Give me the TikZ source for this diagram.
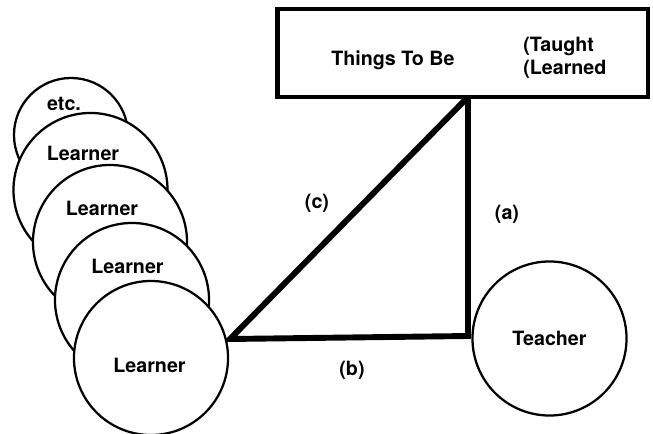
\documentclass[tikz,border=0pt]{standalone}
\usepackage{fontspec}
\setmainfont{TeX Gyre Heros}

\begin{document}
\begin{tikzpicture}[x=0.025cm,y=-0.025cm,
  every node/.style={font=\fontsize{14}{16.5}\selectfont\bfseries},
  pupil/.style={circle,draw,fill=white,line width=1.6pt,minimum size=3.85cm,inner sep=0pt},
  side/.style={line width=4.2pt,line join=miter}]
\useasboundingbox (0,0) rectangle (653,434);
% triangle first, circles and box cover its ends
\coordinate (cL) at (230,339);
\coordinate (cR) at (468,336);
\coordinate (cT) at (468,97);
\draw[side] (cL) -- (cR) -- (cT) -- cycle;
\node (a) at (507,214) {(a)};
\node (b) at (352,370) {(b)};
\node (c) at (317,203) {(c)};
% the learners, back to front
\node[pupil,minimum size=2.85cm] (etc) at (71,135) {};
\node (etctxt) at (64,104) {etc.};
\node[pupil] (learnerD) at (90.5,190) {};
\node (learnerDtxt) at (83,153) {Learner};
\node[pupil] (learnerC) at (110,242) {};
\node (learnerCtxt) at (102,208) {Learner};
\node[pupil] (learnerB) at (132,300) {};
\node (learnerBtxt) at (127.5,266) {Learner};
\node[pupil] (learnerA) at (151,358) {};
\node (learnerAtxt) at (149.5,365) {Learner};
\node[pupil] (teacher) at (549.5,338.5) {Teacher};
% what is taught and learned
\node[draw,fill=white,line width=3.2pt,minimum width=9.26cm,minimum height=2.2cm] (things) at (462.75,53) {};
\node (tobe) at (393,60) {Things To Be};
\node[anchor=west,align=left,inner sep=0pt] (mode) at (523,58) {(Taught\\(Learned};
\end{tikzpicture}
\end{document}
